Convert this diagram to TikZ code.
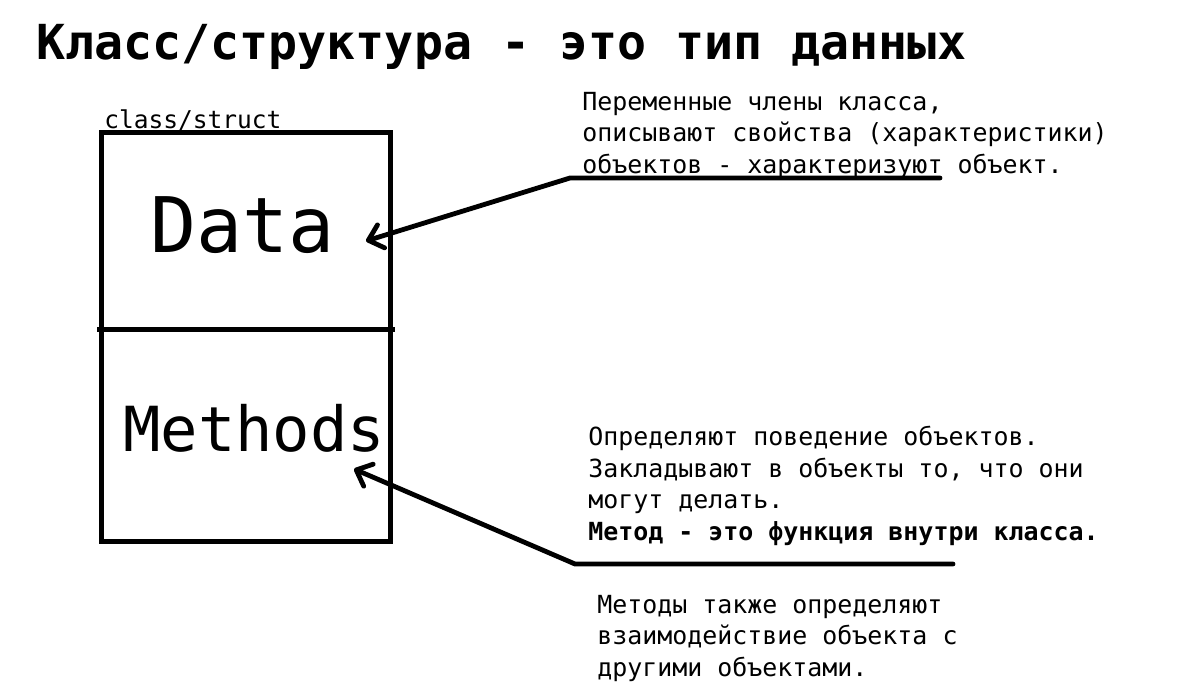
\documentclass[tikz,border=0pt]{standalone}
\usepackage{fontspec}
\newfontfamily\mono{DejaVu Sans Mono}
\usetikzlibrary{arrows.meta}
\begin{document}
\begin{tikzpicture}[x=0.75pt,y=-0.75pt,
  thick line/.style={line width=3.6pt,line cap=round,line join=round},
  barb/.style={-{Straight Barb[length=10pt,width=18pt,line cap=round,line join=round]}},
  txt/.style={inner sep=0pt,anchor=base west,align=left,font=\mono\fontsize{18.7pt}{23.6pt}\selectfont},
]
\useasboundingbox[fill=white] (0,0) rectangle (1180,688);

% title
\node[inner sep=0pt,anchor=base west,font=\mono\bfseries\fontsize{36.2pt}{40pt}\selectfont] (title) at (36,60) {Класс/структура - это тип данных};

% class box
\node[inner sep=0pt,anchor=base west,font=\mono\fontsize{18.4pt}{22pt}\selectfont] (cls) at (104,129) {class/struct};
\draw[line width=3.75pt] (101,133) rectangle (390,541);
\coordinate (divL) at (97,329);
\coordinate (divR) at (395,329);
\draw[line width=3.75pt] (divL) -- (divR);
\node[inner sep=0pt,anchor=base west,font=\mono\fontsize{57.5pt}{60pt}\selectfont] (data) at (150,252) {Data};
\node[inner sep=0pt,anchor=base west,font=\mono\fontsize{46.6pt}{50pt}\selectfont] (methods) at (123,451) {Methods};

% text blocks (anchor at baseline of last line)
\node[txt] (t1) at (582,173) {Переменные члены класса,\\описывают свойства (характеристики)\\объектов - характеризуют объект.};
\node[txt] (t2) at (588,540) {Определяют поведение объектов.\\Закладывают в объекты то, что они\\могут делать.\\\bfseries Метод - это функция внутри класса.};
\node[txt] (t3) at (597,676) {Методы также определяют\\взаимодействие объекта с\\другими объектами.};

% arrows
\coordinate (e1) at (940,178);
\coordinate (u1) at (570,178);
\coordinate (a1) at (366,241);
\draw[thick line,barb] (e1) -- (u1) -- (a1);

\coordinate (e2) at (953,564);
\coordinate (u2) at (575,564);
\coordinate (a2) at (354,469);
\draw[thick line,barb] (e2) -- (u2) -- (a2);
\end{tikzpicture}
\end{document}
